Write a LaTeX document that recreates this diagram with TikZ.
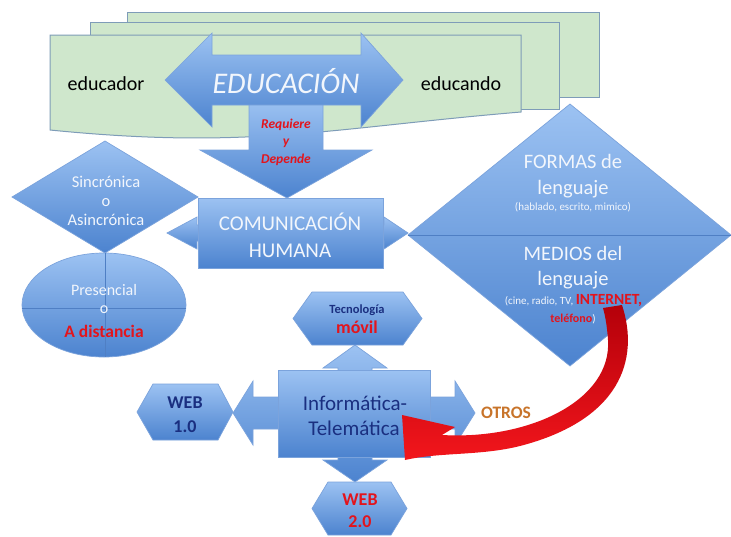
\documentclass[tikz,border=0pt]{standalone}
\usepackage{fontspec}
\setmainfont{Carlito}
\definecolor{bluetop}{HTML}{9CC2F2}
\definecolor{bluebot}{HTML}{4C83CF}
\definecolor{blueedge}{HTML}{7BA3DC}
\definecolor{divline}{HTML}{4F7FC4}
\definecolor{pagefill}{HTML}{CFE7CC}
\definecolor{pageedge}{HTML}{7E9CB8}
\definecolor{txtwhite}{HTML}{F2F6FC}
\definecolor{redtxt}{HTML}{E3141C}
\definecolor{navy}{HTML}{1A2F80}
\definecolor{orangetxt}{HTML}{C8742A}
\definecolor{arrowdark}{HTML}{B4000A}
\definecolor{arrowred}{HTML}{F2161C}
\begin{document}
\begin{tikzpicture}[x=1pt,y=-1pt,
  blueshape/.style={draw=blueedge, line width=0.7pt, top color=bluetop, bottom color=bluebot},
  page/.style={draw=pageedge, line width=1pt, fill=pagefill},
  tx/.style={anchor=base, inner sep=0pt, outer sep=0pt},
  wt/.style={tx, text=txtwhite},
]
\path[fill=white] (0,0) rectangle (731,536);
\useasboundingbox (0,0) rectangle (731,536);

% ---- stacked documents ----
\path[page] (127,12) rectangle (599,97);
\path[page] (90,22) rectangle (559,109);
\path[page] (50,35) -- (521,35) -- (521,112)
  .. controls (330,128) and (250,150) .. (50,130) -- cycle;

% ---- down arrow Requiere y Depende ----
\path[blueshape] (249,100) -- (323,100) -- (323,150) -- (372,150) -- (287,198)
  -- (200,150) -- (249,150) -- cycle;

% ---- EDUCACION double arrow ----
\path[blueshape] (165,80) -- (212,33) -- (212,55) -- (361,55) -- (361,33)
  -- (403,80) -- (361,127) -- (361,105) -- (212,105) -- (212,127) -- cycle;

% ---- arrows behind COMUNICACION ----
\path[blueshape] (167,233) -- (197,217) -- (197,225) -- (384,225) -- (384,217)
  -- (408,233) -- (384,249) -- (384,241) -- (197,241) -- (197,249) -- cycle;

% ---- left diamond ----
\path[blueshape] (12,197) -- (105,141) -- (198,197) -- (105,253) -- cycle;
\coordinate (sincC) at (105,197);

% ---- ellipse ----
\path[blueshape] (104,305) ellipse [x radius=82, y radius=52];
\draw[divline, line width=0.6pt] (105,253) -- (105,357);
\draw[divline, line width=0.6pt] (22,308) -- (186,308);

% ---- COMUNICACION box ----
\node[blueshape, rectangle, minimum width=185pt, minimum height=70pt, inner sep=0pt] (com) at (290.5,233) {};

% ---- big right diamond ----
\path[blueshape] (408,235) -- (570,104) -- (731,235) -- (570,366) -- cycle;
\draw[divline, line width=0.6pt] (408,235) -- (731,235);

% ---- quad arrow + Informatica box ----
\path[blueshape] (355,345) -- (387,368) -- (372,368) -- (372,397) -- (455,397)
  -- (455,381) -- (475,413) -- (455,445) -- (455,429) -- (372,429) -- (372,460)
  -- (387,460) -- (355,482) -- (323,460) -- (338,460) -- (338,429) -- (253,429)
  -- (253,445) -- (233,413) -- (253,381) -- (253,397) -- (338,397) -- (338,368)
  -- (323,368) -- cycle;
\node[blueshape, rectangle, minimum width=152pt, minimum height=87pt, inner sep=0pt] (inf) at (354,413.5) {};

% ---- hexagons ----
\path[blueshape] (293,318.5) -- (312,292) -- (403,292) -- (422,318.5) -- (403,345) -- (312,345) -- cycle;
\path[blueshape] (137,412) -- (153,384) -- (218,384) -- (233,412) -- (218,440) -- (153,440) -- cycle;
\path[blueshape] (312,508.5) -- (328,482) -- (391,482) -- (407,508.5) -- (391,535) -- (328,535) -- cycle;

% ---- texts ----
\node[tx, text=black, font=\fontsize{20}{24}\selectfont] (educador) at (106,90) {educador};
\node[tx, text=black, font=\fontsize{20}{24}\selectfont] (educando) at (461,90) {educando};
\node[wt, font=\itshape\fontsize{30}{36}\selectfont] (educ) at (286,93) {EDUCACIÓN};

\node[tx, text=redtxt, font=\bfseries\itshape\fontsize{13.5}{16}\selectfont] (req1) at (286,128) {Requiere};
\node[tx, text=redtxt, font=\bfseries\itshape\fontsize{13.5}{16}\selectfont] (req2) at (286,145.5) {y};
\node[tx, text=redtxt, font=\bfseries\itshape\fontsize{13.5}{16}\selectfont] (req3) at (286,163) {Depende};

\node[wt, font=\fontsize{21}{25}\selectfont] (com1) at (290,230) {COMUNICACIÓN};
\node[wt, font=\fontsize{21}{25}\selectfont] (com2) at (290,257) {HUMANA};

\node[wt, font=\fontsize{16.5}{20}\selectfont] (sin1) at (106,187) {Sincrónica};
\node[wt, font=\fontsize{16.5}{20}\selectfont] (sin2) at (106,206) {o};
\node[wt, font=\fontsize{16.5}{20}\selectfont] (sin3) at (106,225) {Asincrónica};

\node[wt, font=\fontsize{16}{20}\selectfont] (pre1) at (104,295) {Presencial};
\node[wt, font=\fontsize{16}{20}\selectfont] (pre2) at (104,313) {o};
\node[tx, text=redtxt, font=\bfseries\fontsize{17.5}{21}\selectfont] (pre3) at (104,337) {A distancia};

\node[wt, font=\fontsize{20.5}{24}\selectfont] (for1) at (573,168) {FORMAS de};
\node[wt, font=\fontsize{20.5}{24}\selectfont] (for2) at (573,194) {lenguaje};
\node[wt, font=\fontsize{11}{13}\selectfont] (for3) at (573,210) {(hablado, escrito, mimico)};

\node[wt, font=\fontsize{20.5}{24}\selectfont] (med1) at (573,260) {MEDIOS del};
\node[wt, font=\fontsize{20.5}{24}\selectfont] (med2) at (573,285) {lenguaje};

% ---- red curved arrow ----
\path[top color=arrowdark, bottom color=arrowred]
  (603,308) -- (622,305)
  .. controls (640,360) and (620,420) .. (520,446)
  .. controls (480,456) and (440,452) .. (405,460)
  -- (402,415) -- (455,427) -- (442,435)
  .. controls (530,440) and (612,400) .. (608,340)
  .. controls (607,325) and (605,315) .. (603,308) -- cycle;
\coordinate (redstart) at (612,306);

\node[wt, font=\fontsize{11}{13}\selectfont] (med3) at (573.5,304)
  {(cine, radio, TV, {\color{redtxt}\bfseries\fontsize{15.5}{18}\selectfont INTERNET,}};
\node[wt, font=\fontsize{11}{13}\selectfont] (med4) at (573,322)
  {{\color{redtxt}\bfseries\fontsize{12}{14}\selectfont teléfono})};

\node[tx, text=navy, font=\bfseries\fontsize{12.5}{15}\selectfont] (tec1) at (357,313) {Tecnología};
\node[tx, text=redtxt, font=\bfseries\fontsize{18}{21}\selectfont] (tec2) at (357,333) {móvil};

\node[tx, text=navy, font=\fontsize{21}{25}\selectfont] (inf1) at (355,410) {Informática-};
\node[tx, text=navy, font=\fontsize{21}{25}\selectfont] (inf2) at (354,435) {Telemática};

\node[tx, text=navy, font=\bfseries\fontsize{18}{21}\selectfont] (w11) at (185,408) {WEB};
\node[tx, text=navy, font=\bfseries\fontsize{18}{21}\selectfont] (w12) at (185,432) {1.0};

\node[tx, text=redtxt, font=\bfseries\fontsize{18}{21}\selectfont] (w21) at (360,505) {WEB};
\node[tx, text=redtxt, font=\bfseries\fontsize{18}{21}\selectfont] (w22) at (360,527) {2.0};

\node[tx, text=orangetxt, font=\bfseries\fontsize{17.5}{21}\selectfont] (otros) at (506,418) {OTROS};
\end{tikzpicture}
\end{document}
